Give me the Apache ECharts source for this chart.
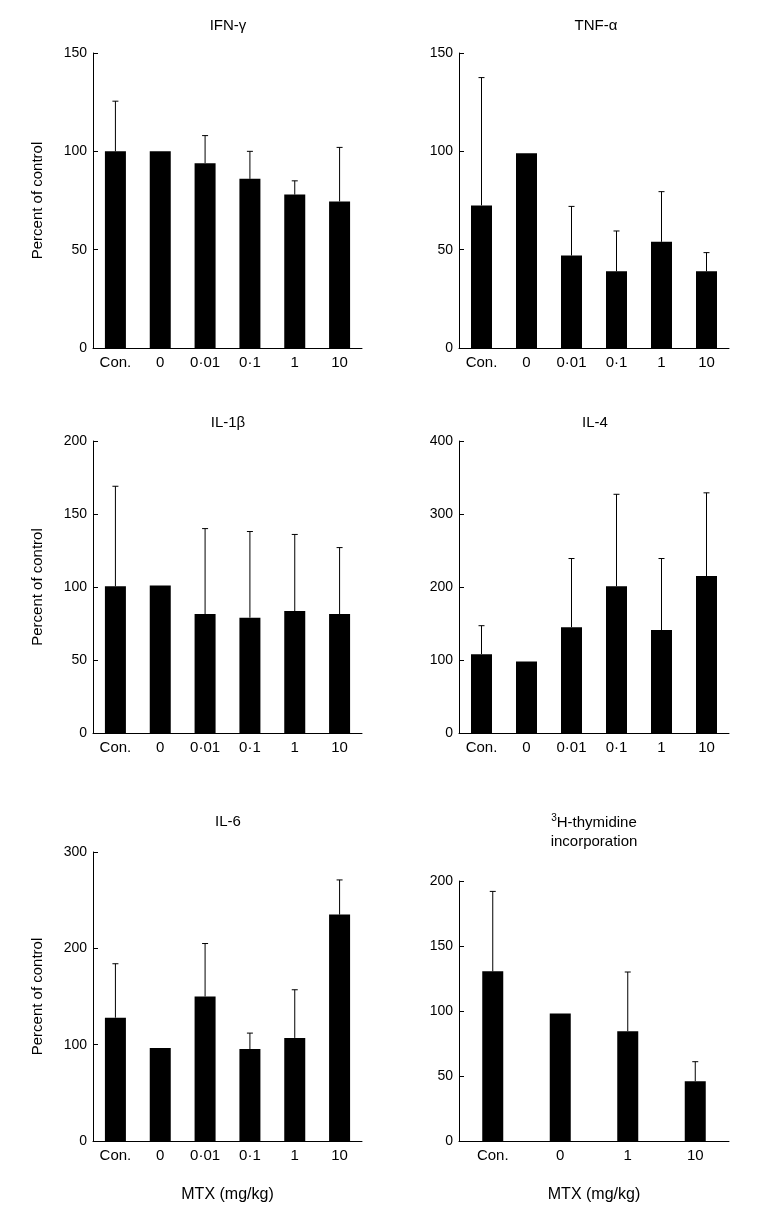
<!DOCTYPE html>
<html>
<head>
<meta charset="utf-8">
<script src="https://cdn.jsdelivr.net/npm/echarts@6/dist/echarts.min.js"></script>
<style>
html,body{margin:0;padding:0;background:#fff;}
#c{width:777px;height:1212px;}
</style>
</head>
<body>
<div id="c"></div>
<script>
// ---- data ----
const categories6 = ['Con.', '0', '0·01', '0·1', '1', '10'];
const categories4 = ['Con.', '0', '1', '10'];

const ifnMean = [100, 100, 94, 86, 78, 74.5];
const ifnUpper = [125.5, null, 108, 100, 85, 102];

const tnfMean = [72.5, 99, 47, 39, 54, 39];
const tnfUpper = [137.5, null, 72, 59.5, 79.5, 48.5];

const il1Mean = [100.5, 101, 81.5, 79, 83.5, 81.5];
const il1Upper = [169, null, 140, 138, 136, 127];

const il4Mean = [108, 98, 145, 201, 141, 215];
const il4Upper = [147, null, 239, 327, 239, 329];

const il6Mean = [128, 96.5, 150, 95.5, 107, 235];
const il6Upper = [184, null, 205, 112, 157, 271];

const thyMean = [130.5, 98, 84.5, 46];
const thyUpper = [192, null, 130, 61];

const panelTitles = ['IFN-γ', 'TNF-α', 'IL-1β', 'IL-4', 'IL-6', '{sup|3}H-thymidine\nincorporation'];
const yMax = [150, 150, 200, 400, 300, 200];
const yInterval = [50, 50, 50, 100, 100, 50];

// ---- layout ----
const FONT = 'Liberation Sans, Arial, sans-serif';
const grids = [
  {left: 93, top: 53, width: 269, height: 295},
  {left: 459, top: 53, width: 270, height: 295},
  {left: 93, top: 441, width: 269, height: 292},
  {left: 459, top: 441, width: 270, height: 292},
  {left: 93, top: 852, width: 269, height: 289},
  {left: 459, top: 881, width: 270, height: 260}
];
const panels = [
  {cats: categories6, mean: ifnMean, up: ifnUpper},
  {cats: categories6, mean: tnfMean, up: tnfUpper},
  {cats: categories6, mean: il1Mean, up: il1Upper},
  {cats: categories6, mean: il4Mean, up: il4Upper},
  {cats: categories6, mean: il6Mean, up: il6Upper},
  {cats: categories4, mean: thyMean, up: thyUpper}
];
const titlePos = [[228, 26], [596, 26], [228, 423], [595, 423], [228, 822], [594, 832]];

const axisLineStyle = {lineStyle: {color: '#000', width: 1}};
const xAxes = [], yAxes = [], series = [], graphics = [];

panels.forEach((p, i) => {
  const bottomRow = i >= 4;
  xAxes.push({
    type: 'category', gridIndex: i, data: p.cats, boundaryGap: true,
    axisLine: axisLineStyle,
    axisTick: {inside: true, length: 5, lineStyle: {color: '#000'}},
    axisLabel: {color: '#000', fontSize: 15, fontFamily: FONT, margin: 7, interval: 0},
    name: bottomRow ? 'MTX (mg/kg)' : '',
    nameLocation: 'middle', nameGap: 46,
    nameTextStyle: {color: '#000', fontSize: 16, fontFamily: FONT}
  });
  yAxes.push({
    type: 'value', gridIndex: i, min: 0, max: yMax[i], interval: yInterval[i],
    axisLine: {show: true, lineStyle: {color: '#000', width: 1}},
    axisTick: {show: true, inside: true, length: 5, lineStyle: {color: '#000'}},
    splitLine: {show: false},
    axisLabel: {color: '#000', fontSize: 14, fontFamily: FONT, margin: 6},
    name: (i % 2 === 0 && i !== 5) ? 'Percent of control' : '',
    nameLocation: 'middle', nameGap: 48,
    nameTextStyle: {color: '#000', fontSize: 15, fontFamily: FONT}
  });
  series.push({
    type: 'bar', xAxisIndex: i, yAxisIndex: i, data: p.mean,
    barWidth: 21, itemStyle: {color: '#000'}, silent: true
  });
  const errData = [];
  p.up.forEach((u, k) => { if (u !== null) errData.push([k, p.mean[k], u]); });
  series.push({
    type: 'custom', xAxisIndex: i, yAxisIndex: i, data: errData,
    encode: {x: 0, y: [1, 2]}, silent: true, z: 3,
    renderItem: function (params, api) {
      const x = api.value(0);
      const a = api.coord([x, api.value(1)]);
      const b = api.coord([x, api.value(2)]);
      const hw = 3;
      const st = {stroke: '#000', lineWidth: 1};
      return {
        type: 'group',
        children: [
          {type: 'line', shape: {x1: a[0], y1: a[1], x2: b[0], y2: b[1]}, style: st},
          {type: 'line', shape: {x1: b[0] - hw, y1: b[1], x2: b[0] + hw, y2: b[1]}, style: st}
        ]
      };
    }
  });
  graphics.push({
    type: 'text', x: titlePos[i][0], y: titlePos[i][1],
    style: {
      text: panelTitles[i], x: 0, y: 0,
      fill: '#000', font: '15px ' + FONT, textAlign: 'center', textVerticalAlign: 'middle',
      lineHeight: 19,
      rich: {sup: {fontSize: 10, verticalAlign: 'top', fontFamily: FONT, fill: '#000', padding: [0, 0, 6, 0]}}
    }
  });
});

const chart = echarts.init(document.getElementById('c'), null, {renderer: 'canvas'});
chart.setOption({
  backgroundColor: '#fff',
  animation: false,
  grid: grids,
  xAxis: xAxes,
  yAxis: yAxes,
  series: series,
  graphic: graphics
});
</script>
</body>
</html>
